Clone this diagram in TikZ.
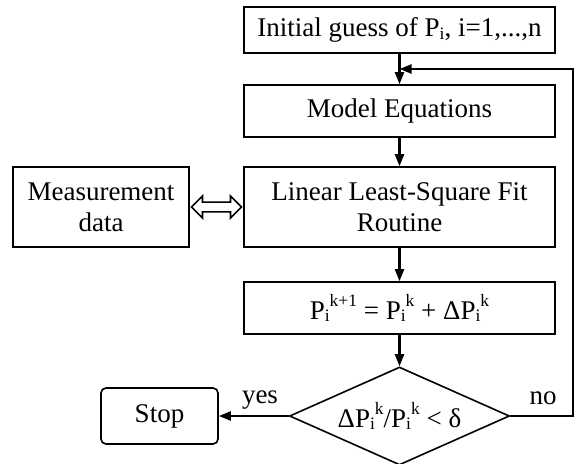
\documentclass[tikz,border=0pt]{standalone}
\usepackage{fontspec}
\setmainfont{Liberation Serif}
\usetikzlibrary{shapes.geometric,shapes.arrows,arrows.meta,calc}
\newcommand{\mysb}[1]{\raisebox{-2.5pt}{\fontsize{17.5}{17.5}\selectfont #1}}
\newcommand{\mysp}[1]{\raisebox{13pt}{\fontsize{17.5}{17.5}\selectfont #1}}
\begin{document}
\begin{tikzpicture}[x=1pt,y=-1pt,
  txt/.style={font=\fontsize{27}{31}\selectfont},
  box/.style={draw, line width=1.6pt, inner sep=0pt, align=center, txt},
  arr/.style={line width=2.2pt, -{Triangle[length=12pt,width=9pt]}},
  lbl/.style={txt, inner sep=0pt}]
\useasboundingbox (0,0) rectangle (577,463);
\node[box, minimum width=311pt, minimum height=46pt] (init) at (399.5,30) {Initial guess of P\mysb{i}, i=1,...,n};
\node[box, minimum width=311pt, minimum height=52pt] (model) at (399.5,111) {Model Equations};
\node[box, minimum width=311pt, minimum height=80pt] (lin) at (399.5,207) {Linear Least-Square Fit\\Routine};
\node[box, minimum width=176pt, minimum height=80pt] (meas) at (101,207) {Measurement\\data};
\node[box, minimum width=311pt, minimum height=52pt] (upd) at (399.5,308) {P\mysb{i}\mysp{k+1} = P\mysb{i}\mysp{k} + ΔP\mysb{i}\mysp{k}};
\node[box, diamond, aspect=2.245, minimum width=220pt, minimum height=98pt] (dia) at (399.5,416) {ΔP\mysb{i}\mysp{k}/P\mysb{i}\mysp{k} < δ};
\node[box, rounded corners=5pt, minimum width=117pt, minimum height=56pt] (stop) at (159.5,416) {Stop};
\node[double arrow, draw, line width=1.6pt, minimum height=50pt, minimum width=22pt, inner sep=4pt, double arrow head extend=6pt] (da) at ($(meas.east)!0.5!(lin.west)$) {};
\coordinate (fb) at (573,416);
\coordinate (join) at (399.5,69);
\draw[arr] (init) -- (model);
\draw[arr] (model) -- (lin);
\draw[arr] (lin) -- (upd);
\draw[arr] (upd) -- (dia);
\draw[arr] (dia) -- (stop);
\draw[arr] (dia.east) -- (fb) |- (join);
\node[lbl] (yes) at (260,400) {yes};
\node[lbl] (no) at (543,398) {no};
\end{tikzpicture}
\end{document}
